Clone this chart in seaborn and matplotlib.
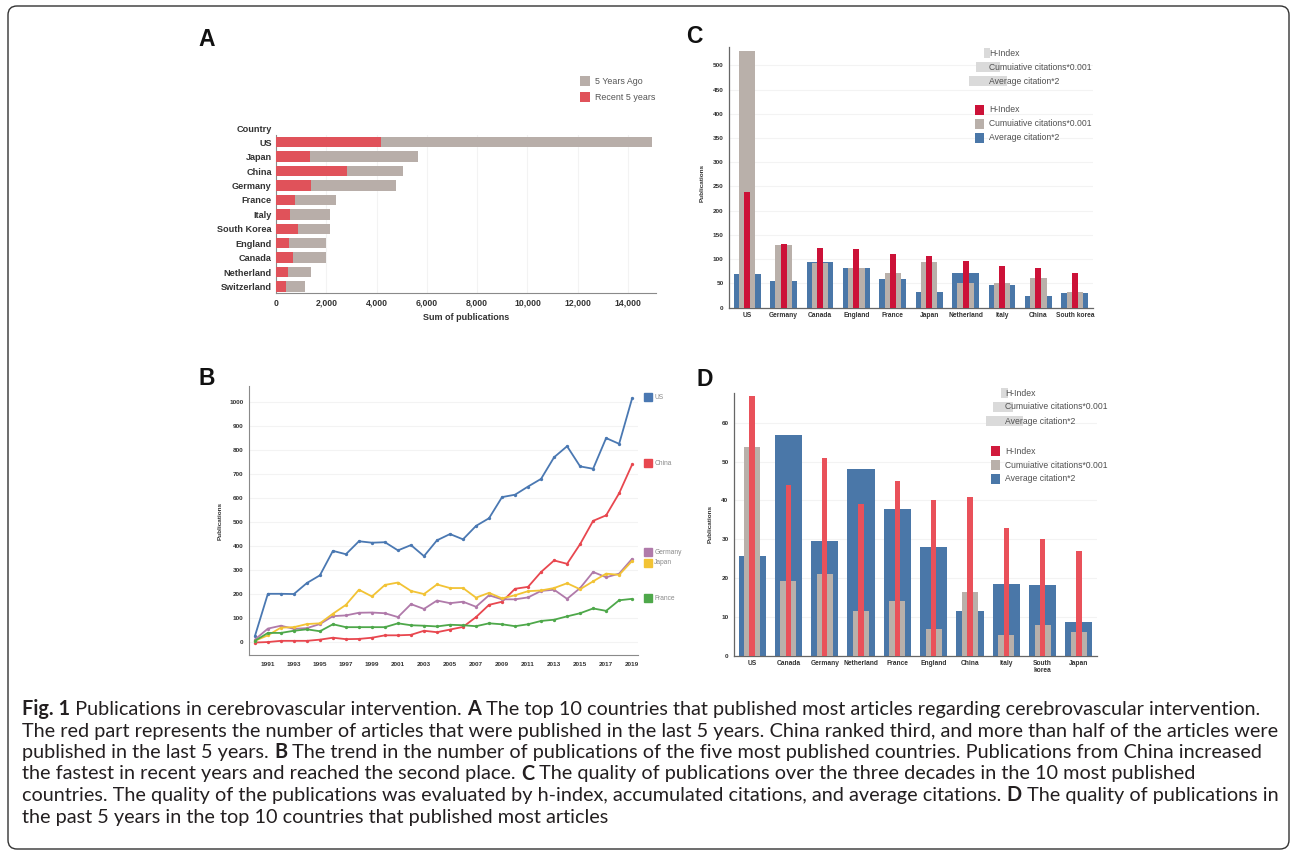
import numpy as np
import pandas as pd
import matplotlib
matplotlib.use("Agg")
import matplotlib.pyplot as plt
import matplotlib.transforms as mtransforms
from matplotlib.patches import Rectangle, FancyBboxPatch
import seaborn as sns

# ---------------- data ----------------
# A: total publications split into the recent 5 years and the years before
a_countries = ["US", "Japan", "China", "Germany", "France", "Italy",
               "South Korea", "England", "Canada", "Netherland", "Switzerland"]
a_recent = [4180, 1370, 2820, 1400, 740, 560, 880, 500, 660, 480, 380]
a_earlier = [10770, 4280, 2240, 3380, 1660, 1600, 1280, 1500, 1320, 920, 760]

# B: yearly publications of the five leading countries
b_years = list(range(1990, 2020))
b_us = [24, 201, 201, 200, 246, 278, 380, 366, 420, 414, 416, 382, 404, 358, 424,
        450, 428, 484, 516, 604, 614, 648, 680, 770, 816, 732, 722, 850, 826, 1016]
b_china = [-2, 0, 5, 5, 5, 10, 18, 12, 13, 18, 28, 28, 30, 47, 41,
           52, 63, 104, 155, 168, 222, 230, 292, 340, 326, 408, 505, 528, 620, 740]
b_germany = [10, 56, 68, 55, 58, 75, 108, 111, 122, 123, 120, 104, 158, 138, 173,
             162, 168, 147, 195, 178, 178, 186, 213, 218, 180, 225, 292, 270, 285, 347]
b_japan = [5, 28, 60, 62, 75, 78, 118, 155, 218, 190, 238, 248, 213, 200, 240,
           225, 225, 185, 205, 182, 195, 212, 215, 225, 245, 220, 253, 285, 280, 338]
b_france = [5, 38, 38, 47, 53, 45, 74, 62, 62, 62, 62, 78, 70, 68, 65,
            72, 70, 66, 78, 74, 66, 74, 88, 93, 107, 120, 140, 130, 174, 180]
b_series = ["US", "China", "Germany", "Japan", "France"]
b_year_ticks = list(range(1991, 2020, 2))

# C: quality over three decades
c_countries = ["US", "Germany", "Canada", "England", "France", "Japan",
               "Netherland", "Italy", "China", "South korea"]
c_hindex = [239, 131, 123, 121, 111, 106, 97, 86, 82, 71]
c_cum = [530, 129, 91, 82, 71, 93, 50, 50, 60, 32]
c_avg = [69, 54, 93, 82, 58, 32, 71, 47, 24, 30]

# D: quality over the past 5 years
d_countries = ["US", "Canada", "Germany", "Netherland", "France", "England",
               "China", "Italy", "South\nkorea", "Japan"]
d_hindex = [67, 44, 51, 39, 45, 40, 41, 33, 30, 27]
d_cum = [53.7, 19.2, 21.0, 11.5, 14.1, 7.0, 16.3, 5.4, 7.9, 6.1]
d_avg = [25.8, 56.8, 29.5, 48.0, 37.9, 27.9, 11.6, 18.6, 18.2, 8.8]

metric_labels = ["H-Index", "Cumuiative citations*0.001", "Average citation*2"]

# ---------------- style ----------------
sns.set_style("white")
plt.rcParams["font.family"] = ["Liberation Sans", "DejaVu Sans"]

W, H = 1292, 850
fig = plt.figure(figsize=(W / 100, H / 100), dpi=100)
fig.patch.set_facecolor("white")


def px_axes(left, top, right, bottom):
    return fig.add_axes([left / W, 1 - bottom / H, (right - left) / W, (bottom - top) / H])


def ftext(x, y, s, **kw):
    return fig.text(x / W, 1 - y / H, s, **kw)


def frect(x0, y0, x1, y1, color):
    fig.patches.append(Rectangle((x0 / W, 1 - y1 / H), (x1 - x0) / W, (y1 - y0) / H,
                                 transform=fig.transFigure, facecolor=color,
                                 edgecolor="none", zorder=1))


# outer rounded frame
fig.patches.append(FancyBboxPatch((8, 1), 1281, 843,
                                  boxstyle="round,pad=0,rounding_size=9",
                                  transform=mtransforms.IdentityTransform(),
                                  facecolor="none", edgecolor="#333333", linewidth=1.0))

SPINE = "#8a8a8a"
TICKC = "#333333"
GRID = "#f3f3f3"

# ---------------- panel A ----------------
dfa = pd.DataFrame({"country": a_countries, "recent": a_recent, "earlier": a_earlier})
dfa["total"] = dfa["recent"] + dfa["earlier"]
axA = px_axes(276, 135, 656, 293)
sns.barplot(data=dfa, y="country", x="total", orient="h", color="#b8aea9",
            saturation=1, width=0.72, linewidth=0, ax=axA, zorder=2)
sns.barplot(data=dfa, y="country", x="recent", orient="h", color="#e0525a",
            saturation=1, width=0.72, linewidth=0, ax=axA, zorder=3)
axA.set_xlim(0, 15110)
axA.set_ylim(10.45, -0.5)
axA.set_xticks(range(0, 14001, 2000))
axA.set_xticklabels([f"{v:,}" for v in range(0, 14001, 2000)])
axA.set_xlabel("Sum of publications", fontsize=6.5, fontweight="bold", color=TICKC, labelpad=4)
axA.set_ylabel("")
axA.xaxis.grid(True, color=GRID, linewidth=0.8)
axA.set_axisbelow(True)
for s in ["top", "right"]:
    axA.spines[s].set_visible(False)
for s in ["left", "bottom"]:
    axA.spines[s].set_color(SPINE)
    axA.spines[s].set_linewidth(0.8)
axA.tick_params(axis="x", length=2, width=0.6, color=SPINE, pad=2,
                labelsize=6.3, labelcolor=TICKC)
axA.tick_params(axis="y", length=0, pad=3, labelsize=6.6, labelcolor=TICKC)
for lab in axA.get_xticklabels() + axA.get_yticklabels():
    lab.set_fontweight("bold")
ftext(272, 129, "Country", ha="right", va="center", fontsize=6.6, fontweight="bold", color=TICKC)
# legend
frect(580, 76, 590, 86, "#b8aea9")
frect(580, 92, 590, 102, "#e0525a")
ftext(595, 81, "5 Years Ago", ha="left", va="center", fontsize=6.4, color="#555555")
ftext(595, 97, "Recent 5 years", ha="left", va="center", fontsize=6.4, color="#555555")

# ---------------- panel B ----------------
b_values = {"US": b_us, "China": b_china, "Germany": b_germany, "Japan": b_japan, "France": b_france}
b_colors = {"US": "#4a78b2", "China": "#e8474f", "Germany": "#b07aaa",
            "Japan": "#f2c335", "France": "#4ea84a"}
dfb = pd.DataFrame([(y, c, v) for c in b_series for y, v in zip(b_years, b_values[c])],
                   columns=["year", "country", "pubs"])
axB = px_axes(249, 386, 638, 655)
sns.lineplot(data=dfb, x="year", y="pubs", hue="country", hue_order=b_series,
             palette=b_colors, marker="o", markersize=2.4, markeredgewidth=0,
             linewidth=1.3, legend=False, ax=axB)
axB.set_xlim(1989.55, 2019.45)
axB.set_ylim(-54, 1067)
axB.set_xticks(b_year_ticks)
axB.set_yticks(range(0, 1001, 100))
axB.set_xlabel("")
axB.set_ylabel("Publications", fontsize=4.6, fontweight="bold", color=TICKC)
axB.yaxis.set_label_coords(-0.068, 0.5)
axB.yaxis.grid(True, color=GRID, linewidth=0.8)
for s in ["top", "right"]:
    axB.spines[s].set_visible(False)
for s in ["left", "bottom"]:
    axB.spines[s].set_color(SPINE)
    axB.spines[s].set_linewidth(0.8)
axB.tick_params(length=2, width=0.5, color=SPINE, pad=2, labelsize=4.6, labelcolor=TICKC)
axB.tick_params(axis="x", pad=3)
for lab in axB.get_xticklabels() + axB.get_yticklabels():
    lab.set_fontweight("bold")
# end-of-line labels
nudge = {"US": 4, "China": 5, "Germany": 28, "Japan": -8, "France": 3}
blend = mtransforms.blended_transform_factory(axB.transAxes, axB.transData)
for c in b_series:
    yv = b_values[c][-1] + nudge[c]
    axB.plot([1.0245], [yv], marker="s", markersize=5.6, color=b_colors[c],
             transform=blend, clip_on=False, linestyle="none")
    axB.text(1.042, yv, c, transform=blend, fontsize=4.8, color="#8a8a8a",
             va="center", ha="left")


# ---------------- panels C and D ----------------
def quality_panel(ax, countries, hidx, cum, avg, ymax, ystep, red, widths):
    df = pd.DataFrame({"country": countries, "h": hidx, "cum": cum, "avg": avg})
    sns.barplot(data=df, x="country", y="avg", order=countries, color="#4a77a8",
                saturation=1, width=widths[0], linewidth=0, ax=ax, zorder=2)
    sns.barplot(data=df, x="country", y="cum", order=countries, color="#b9b0aa",
                saturation=1, width=widths[1], linewidth=0, ax=ax, zorder=3)
    sns.barplot(data=df, x="country", y="h", order=countries, color=red,
                saturation=1, width=widths[2], linewidth=0, ax=ax, zorder=4)
    ax.set_xlim(-0.5, len(countries) - 0.5)
    ax.set_ylim(0, ymax)
    ax.set_yticks(np.arange(0, ymax, ystep))
    ax.set_xlabel("")
    ax.set_ylabel("Publications", fontsize=4.6, fontweight="bold", color=TICKC)
    ax.yaxis.grid(True, color=GRID, linewidth=0.8)
    ax.set_axisbelow(True)
    for s in ["top", "right"]:
        ax.spines[s].set_visible(False)
    for s in ["left", "bottom"]:
        ax.spines[s].set_color("#666666")
        ax.spines[s].set_linewidth(0.9)
    ax.set_xticks(np.arange(-0.5, len(countries), 1.0), minor=True)
    ax.tick_params(axis="x", which="major", length=0, pad=3, labelsize=4.8, labelcolor=TICKC)
    ax.tick_params(axis="x", which="minor", length=2, width=0.5, color="#666666")
    ax.tick_params(axis="y", length=2, width=0.5, color="#666666", pad=2,
                   labelsize=4.6, labelcolor=TICKC)
    for lab in ax.get_xticklabels() + ax.get_yticklabels():
        lab.set_fontweight("bold")
        lab.set_linespacing(0.95)


def metric_legend(x_text, y_ghost, y_real, ghost_spans, colors):
    for (x0, x1), y, lab in zip(ghost_spans, y_ghost, metric_labels):
        frect(x0, y - 5, x1, y + 5, "#dadada")
        ftext(x_text, y, lab, ha="left", va="center", fontsize=6.2, color="#505050", zorder=3)
    for y, lab, col in zip(y_real, metric_labels, colors):
        frect(x_text - 14, y - 5, x_text - 5, y + 5, col)
        ftext(x_text, y, lab, ha="left", va="center", fontsize=6.2, color="#505050")


axC = px_axes(729, 47, 1093, 307.5)
quality_panel(axC, c_countries, c_hindex, c_cum, c_avg, 538, 50, "#cc1238", (0.74, 0.45, 0.16))
axC.yaxis.set_label_coords(-0.068, 0.48)
metric_legend(989, [53, 67, 81], [110, 124, 138],
              [(984, 990), (976, 1000), (969, 1007)],
              ["#cc1238", "#b9b0aa", "#4a77a8"])

axD = px_axes(734, 393, 1097, 655.7)
quality_panel(axD, d_countries, d_hindex, d_cum, d_avg, 67.7, 10, "#e9515a", (0.75, 0.44, 0.15))
axD.yaxis.set_label_coords(-0.06, 0.5)
metric_legend(1005, [393, 407, 421], [451, 465, 479],
              [(1001, 1008), (993, 1013), (986, 1023)],
              ["#d11a3c", "#b9b0aa", "#4a77a8"])

# panel letters
for letter, x, y in [("A", 198, 46), ("B", 198, 385), ("C", 686, 43), ("D", 696, 386)]:
    ftext(x, y, letter, ha="left", va="baseline", fontsize=16.5, fontweight="bold", color="#111111")

# ---------------- caption ----------------
cap_family = ["Lato", "Liberation Sans", "DejaVu Sans"]
caption_lines = [
    [("Fig. 1", True), (" Publications in cerebrovascular intervention. ", False), ("A", True),
     (" The top 10 countries that published most articles regarding cerebrovascular intervention.", False)],
    [("The red part represents the number of articles that were published in the last 5 years. "
      "China ranked third, and more than half of the articles were", False)],
    [("published in the last 5 years. ", False), ("B", True),
     (" The trend in the number of publications of the five most published countries. "
      "Publications from China increased", False)],
    [("the fastest in recent years and reached the second place. ", False), ("C", True),
     (" The quality of publications over the three decades in the 10 most published", False)],
    [("countries. The quality of the publications was evaluated by h-index, accumulated citations, "
      "and average citations. ", False), ("D", True), (" The quality of publications in", False)],
    [("the past 5 years in the top 10 countries that published most articles", False)],
]
renderer = fig.canvas.get_renderer()
probe = ftext(0, 0, caption_lines[1][0][0], fontsize=12, family=cap_family)
probe_w = probe.get_window_extent(renderer).width
probe.remove()
cap_size = 12 * 1250 / probe_w

baselines = [715, 736.5, 758, 779.5, 801, 822.5]
for segs, yb in zip(caption_lines, baselines):
    x = 22
    for txt, bold in segs:
        t = ftext(x, yb, txt, ha="left", va="baseline", fontsize=cap_size, family=cap_family,
                  fontweight="bold" if bold else "normal", color="#231f20")
        x += t.get_window_extent(renderer).width

fig.savefig("out.png", dpi=100, facecolor="white")
